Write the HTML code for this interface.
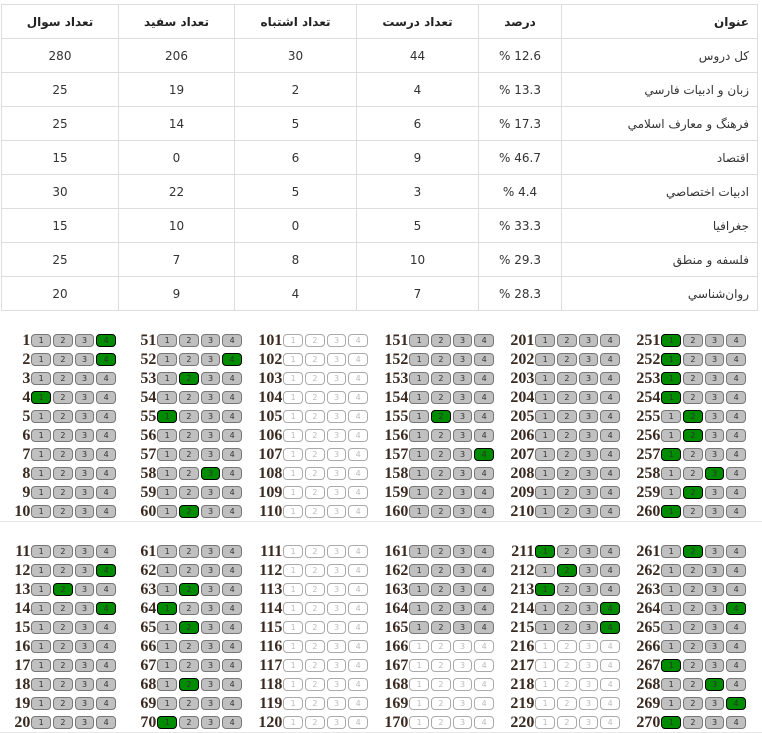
<!DOCTYPE html>
<html><head><meta charset="utf-8"><style>
body{margin:0;width:762px;height:733px;background:#fff;position:relative;overflow:hidden;font-family:Tahoma,"DejaVu Sans","Liberation Sans",sans-serif;}
table{position:absolute;left:1px;top:4px;width:757px;border-collapse:collapse;direction:rtl;font-size:12px;color:#333;}
td,th{border:1px solid #ddd;height:33px;padding:0;text-align:center;}
th{font-weight:bold;color:#222;}
td.t,th.t{text-align:right;padding-right:8px;}
.p{direction:ltr;}
.c{position:absolute;width:118px;}
.c p{margin:0;height:19px;display:flex;align-items:center;}
.c b{width:31px;text-align:right;font:bold 16px "Liberation Serif",serif;color:#3a2a20;padding-right:1px;}
.c i{font-style:normal;box-sizing:border-box;width:20px;height:13px;margin-right:2px;border:1px solid #777;border-radius:4px;background:#c0c0c0;font:8px "DejaVu Sans",sans-serif;color:#333;text-align:center;line-height:11px;}
.c i.g{background:#008c00;border-color:#000;color:#333;}
.c.w i{background:#fff;border-color:#aaa;color:#bbb;}
.c p.w i{background:#fff;border-color:#aaa;color:#bbb;}
.hr{position:absolute;left:0;width:762px;height:1px;background:#e6e6e6;}
</style></head><body>
<table>
<tr><th class="t" style="width:187px">عنوان</th><th style="width:82px">درصد</th><th style="width:121px">تعداد درست</th><th style="width:121px">تعداد اشتباه</th><th style="width:115px">تعداد سفید</th><th>تعداد سوال</th></tr>
<tr><td class="t">کل دروس</td><td><span class="p">12.6 %</span></td><td>44</td><td>30</td><td>206</td><td>280</td></tr>
<tr><td class="t">زبان و ادبيات فارسي</td><td><span class="p">13.3 %</span></td><td>4</td><td>2</td><td>19</td><td>25</td></tr>
<tr><td class="t">فرهنگ و معارف اسلامي</td><td><span class="p">17.3 %</span></td><td>6</td><td>5</td><td>14</td><td>25</td></tr>
<tr><td class="t">اقتصاد</td><td><span class="p">46.7 %</span></td><td>9</td><td>6</td><td>0</td><td>15</td></tr>
<tr><td class="t">ادبيات اختصاصي</td><td><span class="p">4.4 %</span></td><td>3</td><td>5</td><td>22</td><td>30</td></tr>
<tr><td class="t">جغرافيا</td><td><span class="p">33.3 %</span></td><td>5</td><td>0</td><td>10</td><td>15</td></tr>
<tr><td class="t">فلسفه و منطق</td><td><span class="p">29.3 %</span></td><td>10</td><td>8</td><td>7</td><td>25</td></tr>
<tr><td class="t">روان‌شناسي</td><td><span class="p">28.3 %</span></td><td>7</td><td>4</td><td>9</td><td>20</td></tr>
</table>

<div class="c" style="left:0;top:331px">
<p><b>1</b><i>1</i><i>2</i><i>3</i><i class="g">4</i></p>
<p><b>2</b><i>1</i><i>2</i><i>3</i><i class="g">4</i></p>
<p><b>3</b><i>1</i><i>2</i><i>3</i><i>4</i></p>
<p><b>4</b><i class="g">1</i><i>2</i><i>3</i><i>4</i></p>
<p><b>5</b><i>1</i><i>2</i><i>3</i><i>4</i></p>
<p><b>6</b><i>1</i><i>2</i><i>3</i><i>4</i></p>
<p><b>7</b><i>1</i><i>2</i><i>3</i><i>4</i></p>
<p><b>8</b><i>1</i><i>2</i><i>3</i><i>4</i></p>
<p><b>9</b><i>1</i><i>2</i><i>3</i><i>4</i></p>
<p><b>10</b><i>1</i><i>2</i><i>3</i><i>4</i></p>
</div>
<div class="c" style="left:126px;top:331px">
<p><b>51</b><i>1</i><i>2</i><i>3</i><i>4</i></p>
<p><b>52</b><i>1</i><i>2</i><i>3</i><i class="g">4</i></p>
<p><b>53</b><i>1</i><i class="g">2</i><i>3</i><i>4</i></p>
<p><b>54</b><i>1</i><i>2</i><i>3</i><i>4</i></p>
<p><b>55</b><i class="g">1</i><i>2</i><i>3</i><i>4</i></p>
<p><b>56</b><i>1</i><i>2</i><i>3</i><i>4</i></p>
<p><b>57</b><i>1</i><i>2</i><i>3</i><i>4</i></p>
<p><b>58</b><i>1</i><i>2</i><i class="g">3</i><i>4</i></p>
<p><b>59</b><i>1</i><i>2</i><i>3</i><i>4</i></p>
<p><b>60</b><i>1</i><i class="g">2</i><i>3</i><i>4</i></p>
</div>
<div class="c w" style="left:252px;top:331px">
<p><b>101</b><i>1</i><i>2</i><i>3</i><i>4</i></p>
<p><b>102</b><i>1</i><i>2</i><i>3</i><i>4</i></p>
<p><b>103</b><i>1</i><i>2</i><i>3</i><i>4</i></p>
<p><b>104</b><i>1</i><i>2</i><i>3</i><i>4</i></p>
<p><b>105</b><i>1</i><i>2</i><i>3</i><i>4</i></p>
<p><b>106</b><i>1</i><i>2</i><i>3</i><i>4</i></p>
<p><b>107</b><i>1</i><i>2</i><i>3</i><i>4</i></p>
<p><b>108</b><i>1</i><i>2</i><i>3</i><i>4</i></p>
<p><b>109</b><i>1</i><i>2</i><i>3</i><i>4</i></p>
<p><b>110</b><i>1</i><i>2</i><i>3</i><i>4</i></p>
</div>
<div class="c" style="left:378px;top:331px">
<p><b>151</b><i>1</i><i>2</i><i>3</i><i>4</i></p>
<p><b>152</b><i>1</i><i>2</i><i>3</i><i>4</i></p>
<p><b>153</b><i>1</i><i>2</i><i>3</i><i>4</i></p>
<p><b>154</b><i>1</i><i>2</i><i>3</i><i>4</i></p>
<p><b>155</b><i>1</i><i class="g">2</i><i>3</i><i>4</i></p>
<p><b>156</b><i>1</i><i>2</i><i>3</i><i>4</i></p>
<p><b>157</b><i>1</i><i>2</i><i>3</i><i class="g">4</i></p>
<p><b>158</b><i>1</i><i>2</i><i>3</i><i>4</i></p>
<p><b>159</b><i>1</i><i>2</i><i>3</i><i>4</i></p>
<p><b>160</b><i>1</i><i>2</i><i>3</i><i>4</i></p>
</div>
<div class="c" style="left:504px;top:331px">
<p><b>201</b><i>1</i><i>2</i><i>3</i><i>4</i></p>
<p><b>202</b><i>1</i><i>2</i><i>3</i><i>4</i></p>
<p><b>203</b><i>1</i><i>2</i><i>3</i><i>4</i></p>
<p><b>204</b><i>1</i><i>2</i><i>3</i><i>4</i></p>
<p><b>205</b><i>1</i><i>2</i><i>3</i><i>4</i></p>
<p><b>206</b><i>1</i><i>2</i><i>3</i><i>4</i></p>
<p><b>207</b><i>1</i><i>2</i><i>3</i><i>4</i></p>
<p><b>208</b><i>1</i><i>2</i><i>3</i><i>4</i></p>
<p><b>209</b><i>1</i><i>2</i><i>3</i><i>4</i></p>
<p><b>210</b><i>1</i><i>2</i><i>3</i><i>4</i></p>
</div>
<div class="c" style="left:630px;top:331px">
<p><b>251</b><i class="g">1</i><i>2</i><i>3</i><i>4</i></p>
<p><b>252</b><i class="g">1</i><i>2</i><i>3</i><i>4</i></p>
<p><b>253</b><i class="g">1</i><i>2</i><i>3</i><i>4</i></p>
<p><b>254</b><i class="g">1</i><i>2</i><i>3</i><i>4</i></p>
<p><b>255</b><i>1</i><i class="g">2</i><i>3</i><i>4</i></p>
<p><b>256</b><i>1</i><i class="g">2</i><i>3</i><i>4</i></p>
<p><b>257</b><i class="g">1</i><i>2</i><i>3</i><i>4</i></p>
<p><b>258</b><i>1</i><i>2</i><i class="g">3</i><i>4</i></p>
<p><b>259</b><i>1</i><i class="g">2</i><i>3</i><i>4</i></p>
<p><b>260</b><i class="g">1</i><i>2</i><i>3</i><i>4</i></p>
</div>

<div class="hr" style="top:521px"></div>

<div class="c" style="left:0;top:542px">
<p><b>11</b><i>1</i><i>2</i><i>3</i><i>4</i></p>
<p><b>12</b><i>1</i><i>2</i><i>3</i><i class="g">4</i></p>
<p><b>13</b><i>1</i><i class="g">2</i><i>3</i><i>4</i></p>
<p><b>14</b><i>1</i><i>2</i><i>3</i><i class="g">4</i></p>
<p><b>15</b><i>1</i><i>2</i><i>3</i><i>4</i></p>
<p><b>16</b><i>1</i><i>2</i><i>3</i><i>4</i></p>
<p><b>17</b><i>1</i><i>2</i><i>3</i><i>4</i></p>
<p><b>18</b><i>1</i><i>2</i><i>3</i><i>4</i></p>
<p><b>19</b><i>1</i><i>2</i><i>3</i><i>4</i></p>
<p><b>20</b><i>1</i><i>2</i><i>3</i><i>4</i></p>
</div>
<div class="c" style="left:126px;top:542px">
<p><b>61</b><i>1</i><i>2</i><i>3</i><i>4</i></p>
<p><b>62</b><i>1</i><i>2</i><i>3</i><i>4</i></p>
<p><b>63</b><i>1</i><i class="g">2</i><i>3</i><i>4</i></p>
<p><b>64</b><i class="g">1</i><i>2</i><i>3</i><i>4</i></p>
<p><b>65</b><i>1</i><i class="g">2</i><i>3</i><i>4</i></p>
<p><b>66</b><i>1</i><i>2</i><i>3</i><i>4</i></p>
<p><b>67</b><i>1</i><i>2</i><i>3</i><i>4</i></p>
<p><b>68</b><i>1</i><i class="g">2</i><i>3</i><i>4</i></p>
<p><b>69</b><i>1</i><i>2</i><i>3</i><i>4</i></p>
<p><b>70</b><i class="g">1</i><i>2</i><i>3</i><i>4</i></p>
</div>
<div class="c w" style="left:252px;top:542px">
<p><b>111</b><i>1</i><i>2</i><i>3</i><i>4</i></p>
<p><b>112</b><i>1</i><i>2</i><i>3</i><i>4</i></p>
<p><b>113</b><i>1</i><i>2</i><i>3</i><i>4</i></p>
<p><b>114</b><i>1</i><i>2</i><i>3</i><i>4</i></p>
<p><b>115</b><i>1</i><i>2</i><i>3</i><i>4</i></p>
<p><b>116</b><i>1</i><i>2</i><i>3</i><i>4</i></p>
<p><b>117</b><i>1</i><i>2</i><i>3</i><i>4</i></p>
<p><b>118</b><i>1</i><i>2</i><i>3</i><i>4</i></p>
<p><b>119</b><i>1</i><i>2</i><i>3</i><i>4</i></p>
<p><b>120</b><i>1</i><i>2</i><i>3</i><i>4</i></p>
</div>
<div class="c" style="left:378px;top:542px">
<p><b>161</b><i>1</i><i>2</i><i>3</i><i>4</i></p>
<p><b>162</b><i>1</i><i>2</i><i>3</i><i>4</i></p>
<p><b>163</b><i>1</i><i>2</i><i>3</i><i>4</i></p>
<p><b>164</b><i>1</i><i>2</i><i>3</i><i>4</i></p>
<p><b>165</b><i>1</i><i>2</i><i>3</i><i>4</i></p>
<p class="w"><b>166</b><i>1</i><i>2</i><i>3</i><i>4</i></p>
<p class="w"><b>167</b><i>1</i><i>2</i><i>3</i><i>4</i></p>
<p class="w"><b>168</b><i>1</i><i>2</i><i>3</i><i>4</i></p>
<p class="w"><b>169</b><i>1</i><i>2</i><i>3</i><i>4</i></p>
<p class="w"><b>170</b><i>1</i><i>2</i><i>3</i><i>4</i></p>
</div>
<div class="c" style="left:504px;top:542px">
<p><b>211</b><i class="g">1</i><i>2</i><i>3</i><i>4</i></p>
<p><b>212</b><i>1</i><i class="g">2</i><i>3</i><i>4</i></p>
<p><b>213</b><i class="g">1</i><i>2</i><i>3</i><i>4</i></p>
<p><b>214</b><i>1</i><i>2</i><i>3</i><i class="g">4</i></p>
<p><b>215</b><i>1</i><i>2</i><i>3</i><i class="g">4</i></p>
<p class="w"><b>216</b><i>1</i><i>2</i><i>3</i><i>4</i></p>
<p class="w"><b>217</b><i>1</i><i>2</i><i>3</i><i>4</i></p>
<p class="w"><b>218</b><i>1</i><i>2</i><i>3</i><i>4</i></p>
<p class="w"><b>219</b><i>1</i><i>2</i><i>3</i><i>4</i></p>
<p class="w"><b>220</b><i>1</i><i>2</i><i>3</i><i>4</i></p>
</div>
<div class="c" style="left:630px;top:542px">
<p><b>261</b><i>1</i><i class="g">2</i><i>3</i><i>4</i></p>
<p><b>262</b><i>1</i><i>2</i><i>3</i><i>4</i></p>
<p><b>263</b><i>1</i><i>2</i><i>3</i><i>4</i></p>
<p><b>264</b><i>1</i><i>2</i><i>3</i><i class="g">4</i></p>
<p><b>265</b><i>1</i><i>2</i><i>3</i><i>4</i></p>
<p><b>266</b><i>1</i><i>2</i><i>3</i><i>4</i></p>
<p><b>267</b><i class="g">1</i><i>2</i><i>3</i><i>4</i></p>
<p><b>268</b><i>1</i><i>2</i><i class="g">3</i><i>4</i></p>
<p><b>269</b><i>1</i><i>2</i><i>3</i><i class="g">4</i></p>
<p><b>270</b><i class="g">1</i><i>2</i><i>3</i><i>4</i></p>
</div>
<div class="hr" style="top:732px"></div>
</body></html>
